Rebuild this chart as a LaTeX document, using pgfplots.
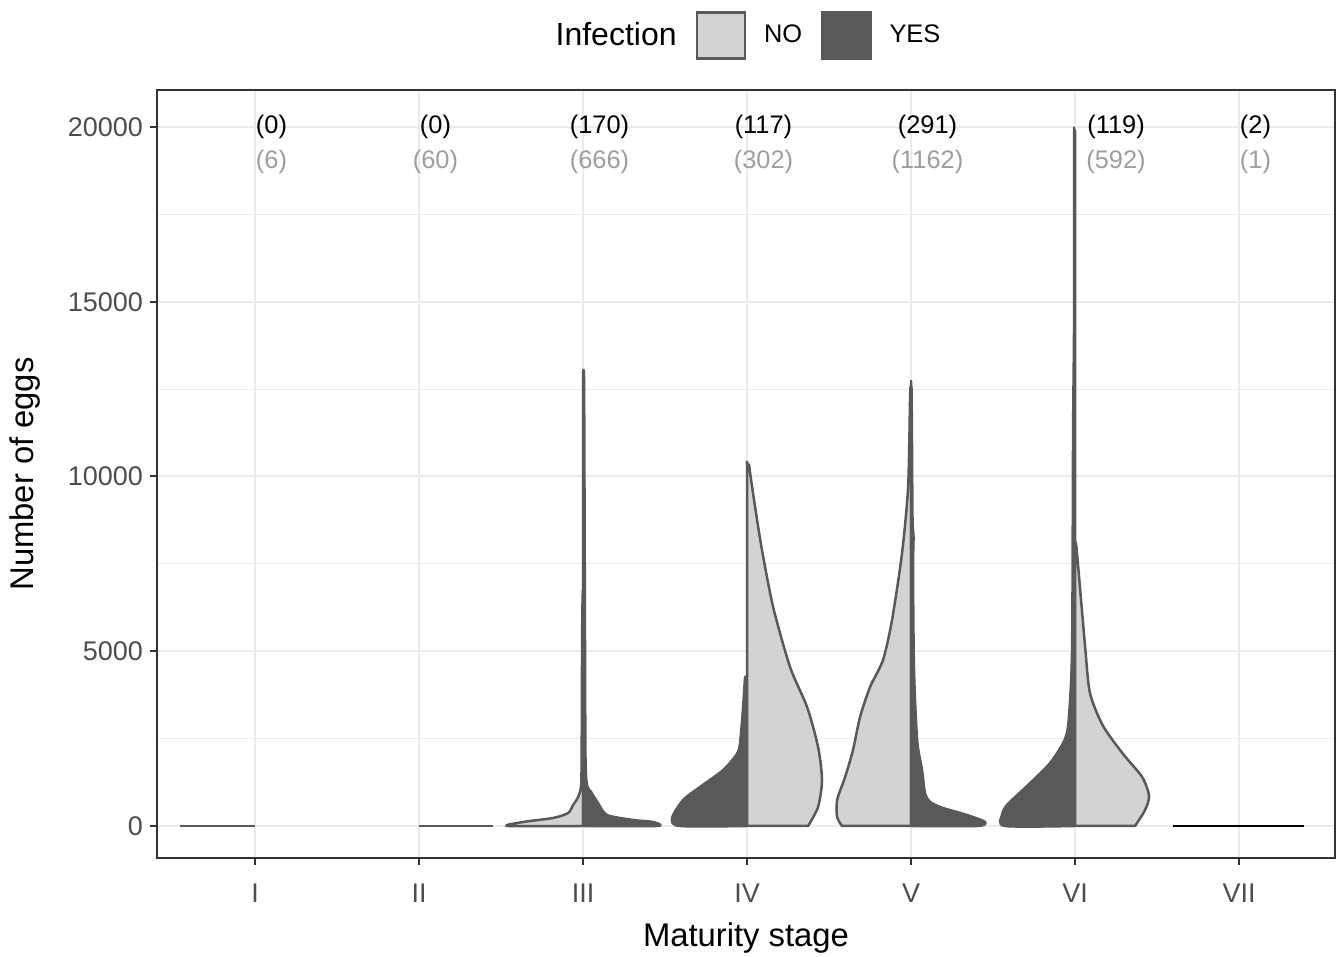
\documentclass[border=0pt]{standalone}
\usepackage{fontspec}
\setmainfont{Liberation Sans}
\usepackage{pgfplots}
\pgfplotsset{compat=1.18}
\definecolor{nofill}{HTML}{D1D3D4}
\definecolor{yesfill}{HTML}{58595B}
\definecolor{edge}{HTML}{58595B}
\definecolor{gridc}{HTML}{EBEBEB}
\definecolor{framec}{HTML}{333333}
\definecolor{ticktxt}{HTML}{4D4D4D}
\definecolor{nlight}{HTML}{9E9E9E}
\pgfplotsset{violin/.style={forget plot, draw=edge, line width=1.25bp, line join=round, smooth, tension=0.45}}

\begin{document}
\begin{tikzpicture}
\useasboundingbox (-78.5bp,-49.5bp) rectangle (591.5bp,429bp);
\begin{axis}[
  scale only axis, width=589bp, height=384bp,
  xmin=0.402, xmax=7.585, ymin=-916, ymax=21058,
  xtick={1,...,7}, xticklabels={I,II,III,IV,V,VI,VII},
  ytick={0,5000,10000,15000,20000},
  minor ytick={2500,7500,12500,17500},
  scaled y ticks=false,
  grid=both,
  major grid style={gridc, line width=1bp},
  minor grid style={gridc, line width=0.55bp},
  axis line style={framec, line width=1bp},
  tick style={framec, line width=1bp},
  tick align=outside, major tick length=3.5bp, minor tick length=0pt,
  xtick pos=lower, ytick pos=left,
  ticklabel style={font=\fontsize{13.5bp}{15bp}\selectfont, text=ticktxt},
  xticklabel style={yshift=-6bp},
  /pgf/number format/fixed,
  /pgf/number format/set thousands separator={},
  /pgf/number format/assume math mode=true,
  xlabel={Maturity stage}, ylabel={Number of eggs},
  label style={font=\fontsize{16.4bp}{18bp}\selectfont},
  xlabel style={at={(axis description cs:0.5,-0.104)}, anchor=center},
  ylabel style={at={(axis description cs:-0.112,0.5)}, anchor=center},
  legend columns=-1,
  legend style={at={(0.5,1)}, anchor=south, yshift=15bp, xshift=-3.5bp, draw=none, fill=none,
    inner sep=0pt, font=\fontsize{12.7bp}{14bp}\selectfont,
    nodes={inner sep=0pt},
    /tikz/every odd column/.style={column sep=9bp},
    /tikz/every even column/.style={column sep=9.5bp}},
  legend image code/.code={\draw[#1] (0bp,-11.5bp) rectangle (24bp,11.5bp);},
]
\addlegendimage{empty legend}
\addlegendentry{\fontsize{16bp}{18bp}\selectfont Infection}
\addlegendimage{fill=nofill, draw=edge, line width=1.2bp}
\addlegendentry{NO}
\addlegendimage{fill=yesfill, draw=yesfill, line width=1.2bp}
\addlegendentry{YES}

% I and II: all zero, drawn as flat lines
\addplot[forget plot, draw=edge, line width=1.4bp] coordinates {(0.543,0) (1,0)};
\addplot[forget plot, draw=edge, line width=1.4bp] coordinates {(2,0) (2.451,0)};

% III
\addplot[violin, fill=nofill] coordinates {
 (3,0) (2.543,0) (2.634,114) (2.817,229) (2.909,372) (2.939,601) (2.970,830)
 (2.988,1144) (2.991,1888) (2.993,3605) (2.994,5322) (2.997,6466) (3,6752)} --cycle;
\addplot[violin, fill=yesfill] coordinates {
 (3,0) (3.451,0) (3.427,114) (3.305,172) (3.146,315) (3.091,658) (3.049,973)
 (3.024,1173) (3.015,1888) (3.012,5036) (3.009,9327) (3.006,12761) (3,12990)} --cycle;

% IV
\addplot[violin, fill=yesfill] coordinates {
 (4,0) (3.591,0) (3.543,229) (3.610,744) (3.713,1116) (3.854,1602) (3.945,2117)
 (3.963,2661) (3.976,3405) (3.988,4235) (4,4235)} --cycle;
\addplot[violin, fill=nofill] coordinates {
 (4,0) (4,5000) (4,10050) (4,10329) (4.012,10329) (4.02,10050) (4.049,9127)
 (4.091,7897) (4.159,6266) (4.262,4549)
 (4.366,3405) (4.433,2260) (4.457,1316) (4.433,544) (4.372,0)} --cycle;

% V
\addplot[violin, fill=nofill] coordinates {
 (5,0) (5,6000) (5,12300) (5,12561) (4.997,12561) (4.994,12250) (4.982,9699)
 (4.945,7811) (4.884,5894) (4.829,4750) (4.750,3977)
 (4.689,3119) (4.646,2175) (4.598,1402) (4.549,744) (4.549,258) (4.579,0)} --cycle;
\addplot[violin, fill=yesfill] coordinates {
 (5,0) (5.402,0) (5.451,114) (5.341,315) (5.195,515) (5.116,687) (5.085,944)
 (5.067,1602) (5.037,2461) (5.018,4464) (5.012,7325) (5.015,8269) (5.009,8755)
 (5.006,10758) (5.003,12475) (5,12475)} --cycle;

% VI
\addplot[violin, fill=yesfill] coordinates {
 (6,0) (5.573,0) (5.555,315) (5.585,601) (5.707,1144) (5.848,1803) (5.939,2489)
 (5.963,3147) (5.982,5150) (5.988,11330) (5.994,14478) (5.994,19600) (5.995,19885) (6,19885)} --cycle;
\addplot[violin, fill=nofill] coordinates {
 (6,0) (6,4000) (6,7800) (6,8097) (6.004,8097) (6.012,7800) (6.061,5150) (6.091,3805)
 (6.171,2861) (6.293,2060)
 (6.409,1402) (6.451,858) (6.427,458) (6.366,0)} --cycle;

% VII
\addplot[forget plot, draw=black, line width=1.4bp] coordinates {(6.598,0) (7.396,0)};

% sample sizes
\begin{scope}[every node/.style={font=\fontsize{12.7bp}{14bp}\selectfont}]
\node[text=black] at (axis cs:1.1,20000) {(0)};
\node[text=black] at (axis cs:2.1,20000) {(0)};
\node[text=black] at (axis cs:3.1,20000) {(170)};
\node[text=black] at (axis cs:4.1,20000) {(117)};
\node[text=black] at (axis cs:5.1,20000) {(291)};
\node[text=black] at (axis cs:6.25,20000) {(119)};
\node[text=black] at (axis cs:7.1,20000) {(2)};
\node[text=nlight] at (axis cs:1.1,19000) {(6)};
\node[text=nlight] at (axis cs:2.1,19000) {(60)};
\node[text=nlight] at (axis cs:3.1,19000) {(666)};
\node[text=nlight] at (axis cs:4.1,19000) {(302)};
\node[text=nlight] at (axis cs:5.1,19000) {(1162)};
\node[text=nlight] at (axis cs:6.25,19000) {(592)};
\node[text=nlight] at (axis cs:7.1,19000) {(1)};
\end{scope}
\end{axis}
\end{tikzpicture}
\end{document}
